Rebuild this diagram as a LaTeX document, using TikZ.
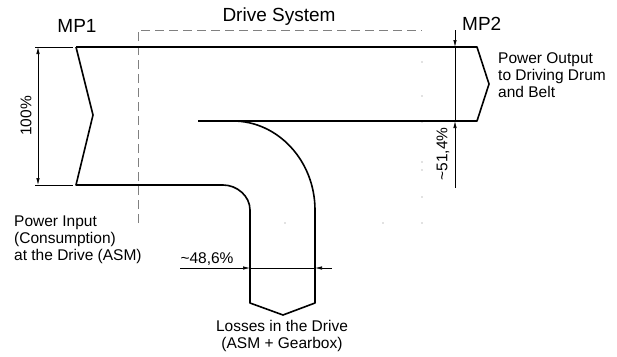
\documentclass[tikz,border=0pt]{standalone}
\usepackage{fontspec}
\setmainfont{Liberation Sans}
\usetikzlibrary{arrows.meta, positioning, calc}

\begin{document}
\begin{tikzpicture}[
    x=1pt, y=-1pt,
    >={Latex[length=7pt,width=3.5pt]},
    flow/.style={line width=1.6pt, line join=round},
    dimline/.style={line width=0.7pt},
    sysbox/.style={gray, line width=0.8pt, dash pattern=on 9pt off 5pt},
    sysdot/.style={gray, fill=gray, circle, inner sep=0pt, minimum size=1.3pt},
    lbl/.style={font=\fontsize{15.5}{17}\selectfont, align=left, inner sep=0pt},
    mplbl/.style={font=\fontsize{19}{22}\selectfont, inner sep=0pt}
  ]
  \useasboundingbox (0,0) rectangle (617,356);

  % Drive System box
  \draw[sysbox] (138,223) -- (138,30) -- (422,30);
  \foreach \y in {47,62,96,122,162,170,197,223}
    \node[sysdot] at (422,\y) {};
  \foreach \x in {285,383}
    \node[sysdot] at (\x,223) {};
  \node[mplbl] (sys) at (279,17) {Drive System};

  % Power flow band
  \draw[flow] (76,47) -- (477,47) -- (489,84) -- (477,121) -- (198,121);
  \draw[flow] (76,47) -- (93,115) -- (76,185) -- (223,185)
    .. controls (237,185) and (250,196) .. (250,210) -- (250,303)
    -- (283,315) -- (315,303) -- (315,210)
    .. controls (315,161) and (278,121) .. (233,121);

  % Measuring points
  \node[mplbl] (mp1) at (77,26) {MP1};
  \node[mplbl, anchor=west] (mp2) at (462,24) {MP2};

  % 100% dimension
  \coordinate (i1) at (35,47);
  \coordinate (i2) at (35,185);
  \draw[dimline] (i1) -- +(38,0);
  \draw[dimline] (i2) -- +(38,0);
  \draw[dimline, <->] ($(i1)+(3,0)$) -- ($(i2)+(3,0)$);
  \node[lbl, rotate=90] (pin) at (26,116) {100\%};

  % 51,4% dimension
  \coordinate (o1) at (455,30);
  \coordinate (o2) at (455,47);
  \coordinate (o3) at (455,121);
  \coordinate (o4) at (455,188);
  \draw[dimline, ->] (o1) -- (o2);
  \draw[dimline] (o2) -- (o3);
  \draw[dimline, <-] (o3) -- (o4);
  \node[lbl, rotate=90] (pout) at (443,154) {\textasciitilde51,4\%};

  % 48,6% dimension
  \coordinate (l1) at (180,268);
  \coordinate (l2) at (250,268);
  \coordinate (l3) at (315,268);
  \coordinate (l4) at (332,268);
  \draw[dimline, ->] (l1) -- (l2);
  \draw[dimline] (l2) -- (l3);
  \draw[dimline, <-] (l3) -- (l4);
  \node[lbl] (ploss) at (207,259) {\textasciitilde48,6\%};

  % Descriptions
  \node[lbl, anchor=north west] (outtxt) at (498,52)
    {Power Output\\to Driving Drum\\and Belt};
  \node[lbl, anchor=north west] (intxt) at (14,216)
    {Power Input\\(Consumption)\\at the Drive (ASM)};
  \node[lbl, align=center, anchor=north] (losstxt) at (282,320)
    {Losses in the Drive\\(ASM + Gearbox)};
\end{tikzpicture}
\end{document}
